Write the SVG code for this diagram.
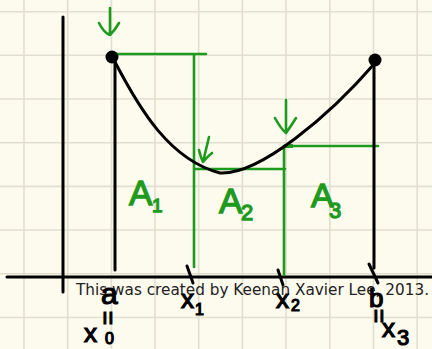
<svg xmlns="http://www.w3.org/2000/svg" width="432" height="349" viewBox="0 0 432 349">
<style>
.grid line{stroke:#e2dfd0;stroke-width:1.6}
.blk{stroke:#000;stroke-width:3;fill:none;stroke-linecap:round}
.grn{stroke:#1e9a1e;stroke-width:2.6;fill:none;stroke-linecap:round;stroke-linejoin:round}
.gt{fill:#1e9a1e;stroke:#1e9a1e;stroke-width:1.3;font-family:"Liberation Sans",Arial,sans-serif}
.bt{fill:#000;stroke:#000;stroke-width:1.2;font-family:"Liberation Sans",Arial,sans-serif}
</style>
<rect width="432" height="349" fill="#fdfbee"/>
<g class="grid">
<line x1="24" y1="0" x2="24" y2="349"/><line x1="67.7" y1="0" x2="67.7" y2="349"/><line x1="111.4" y1="0" x2="111.4" y2="349"/><line x1="155" y1="0" x2="155" y2="349"/><line x1="198.7" y1="0" x2="198.7" y2="349"/><line x1="242.4" y1="0" x2="242.4" y2="349"/><line x1="286" y1="0" x2="286" y2="349"/><line x1="329.8" y1="0" x2="329.8" y2="349"/><line x1="373.5" y1="0" x2="373.5" y2="349"/><line x1="417.2" y1="0" x2="417.2" y2="349"/>
<line x1="0" y1="11.7" x2="432" y2="11.7"/><line x1="0" y1="55.3" x2="432" y2="55.3"/><line x1="0" y1="99" x2="432" y2="99"/><line x1="0" y1="142.7" x2="432" y2="142.7"/><line x1="0" y1="186.4" x2="432" y2="186.4"/><line x1="0" y1="230" x2="432" y2="230"/><line x1="0" y1="273.8" x2="432" y2="273.8"/><line x1="0" y1="317.5" x2="432" y2="317.5"/>
</g>
<g id="axes">
<line class="blk" x1="63" y1="17" x2="63" y2="292"/>
<line class="blk" x1="7" y1="277" x2="432" y2="277"/>
</g>
<g id="rectangles">
<path class="grn" d="M115,54 H206 M194,54 V267 M194,169 H285 M284,146 V275 M284,146 H378"/>
<line x1="284" y1="146" x2="293" y2="146" stroke="#1e9a1e" stroke-width="4"/>
</g>
<g id="bounds">
<line class="blk" x1="115" y1="62" x2="115" y2="270"/>
<line class="blk" x1="374" y1="62" x2="374" y2="268"/>
</g>
<g id="curve">
<path class="blk" d="M115,62 C140,110 170,160 220,173 C260,175 330,115 375,63"/>
<circle cx="112" cy="57" r="6.5" fill="#000"/>
<circle cx="375" cy="60" r="6.5" fill="#000"/>
</g>
<g id="arrows">
<path class="grn" d="M110,8 V35 M99,23 Q104,33 110,35 Q115,30 119,23"/>
<path class="grn" d="M209,137 L203,162 M199,150 Q201,158 203,162 Q207,157 212,153"/>
<path class="grn" d="M286,100 V133 M275,118 Q281,129 286,133 Q291,126 296,118"/>
</g>
<g id="ticks">
<line class="blk" x1="187" y1="266" x2="193" y2="283" stroke-width="2.5"/>
<line class="blk" x1="278" y1="270" x2="283" y2="285" stroke-width="2.5"/>
<line class="blk" x1="369" y1="264" x2="378" y2="283" stroke-width="2.5"/>
</g>
<g id="area-labels">
<text class="gt" x="129" y="205" font-size="35">A</text><text class="gt" x="152" y="212" font-size="19">1</text>
<text class="gt" x="219" y="213" font-size="35">A</text><text class="gt" x="241" y="220" font-size="22">2</text>
<text class="gt" x="311" y="207" font-size="34">A</text><text class="gt" x="329" y="218" font-size="22">3</text>
</g>
<text x="76" y="295" font-family="DejaVu Sans,sans-serif" font-size="15" fill="#222" textLength="353" lengthAdjust="spacingAndGlyphs">This was created by Keenan Xavier Lee, 2013.</text>
<g id="axis-labels">
<text class="bt" x="101" y="304" font-size="30">a</text>
<text class="bt" transform="translate(108,318) rotate(90)" x="0" y="8" font-size="24" text-anchor="middle">=</text>
<text class="bt" x="84" y="342" font-size="26">x</text><text class="bt" x="105" y="344" font-size="16">0</text>
<text class="bt" x="181" y="308" font-size="26">x</text><text class="bt" x="195" y="315" font-size="16">1</text>
<text class="bt" x="276" y="308" font-size="26">x</text><text class="bt" x="291" y="311" font-size="16">2</text>
<text class="bt" x="369" y="307" font-size="26">b</text>
<text class="bt" transform="translate(379,316) rotate(90)" x="0" y="8" font-size="24" text-anchor="middle">=</text>
<text class="bt" x="382" y="337" font-size="26">x</text><text class="bt" x="397" y="345" font-size="22">3</text>
</g>
</svg>
